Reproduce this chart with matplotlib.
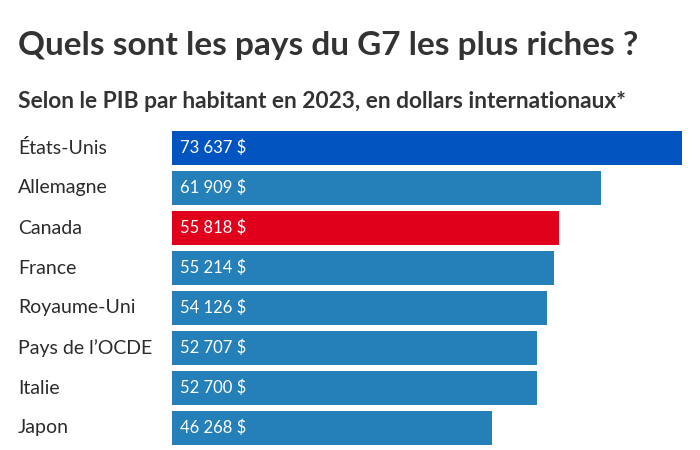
import matplotlib.pyplot as plt

plt.rcParams['font.family'] = ['Lato', 'DejaVu Sans']

pays = ['États-Unis', 'Allemagne', 'Canada', 'France', 'Royaume-Uni',
        'Pays de l’OCDE', 'Italie', 'Japon']
pib = [73637, 61909, 55818, 55214, 54126, 52707, 52700, 46268]
etiquettes = ['73 637 $', '61 909 $', '55 818 $', '55 214 $', '54 126 $',
              '52 707 $', '52 700 $', '46 268 $']
couleurs = ['#0255c1', '#2580b9', '#e0001b', '#2580b9', '#2580b9',
            '#2580b9', '#2580b9', '#2580b9']

fig = plt.figure(figsize=(7, 4.5), dpi=100)
ax = fig.add_axes([172 / 700, 2 / 450, 510 / 700, 320 / 450])

y = range(len(pays))
ax.barh(y, pib, height=0.83, color=couleurs)
ax.set_xlim(0, max(pib))
ax.set_ylim(len(pays) - 0.5, -0.5)
ax.axis('off')

for i, (p, lab) in enumerate(zip(pays, etiquettes)):
    ax.text(8 / 510 * max(pib), i, lab, color='white', fontsize=12,
            va='center', ha='left')
    fig.text(18 / 700, 1 - (148 + 40 * i) / 450, p, fontsize=14,
             color='#2b2b2b', va='center', ha='left')

fig.text(18 / 700, 1 - 45 / 450, 'Quels sont les pays du G7 les plus riches ?',
         fontsize=24, fontweight='bold', color='#333333', va='center')
fig.text(18 / 700, 1 - 102 / 450,
         'Selon le PIB par habitant en 2023, en dollars internationaux*',
         fontsize=16.4, fontweight='bold', color='#333333', va='center')

fig.savefig('out.png', dpi=100, facecolor='white')
